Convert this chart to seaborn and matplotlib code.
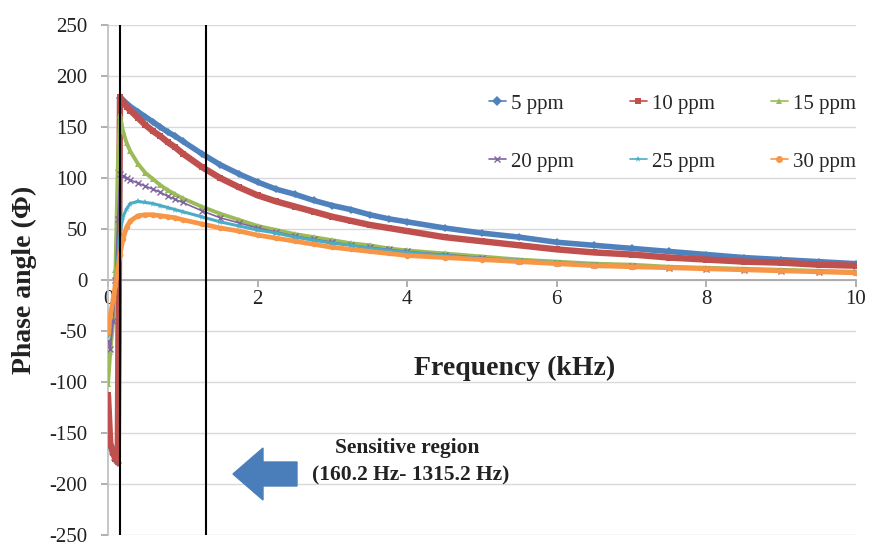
import matplotlib
matplotlib.use("Agg")
import matplotlib.pyplot as plt
import matplotlib.patches as mpatches
from matplotlib.lines import Line2D
from matplotlib.transforms import IdentityTransform
import seaborn as sns
import pandas as pd

# ---------------- data ----------------
freq_khz = [0.0, 0.03, 0.07, 0.1, 0.13, 0.1602, 0.2, 0.25, 0.3,
            0.4, 0.5, 0.6, 0.7, 0.8, 0.9, 1.0,
            1.25, 1.5, 1.75, 2.0, 2.25, 2.5, 2.75, 3.0, 3.25, 3.5, 3.75, 4.0,
            4.5, 5.0, 5.5, 6.0, 6.5, 7.0, 7.5, 8.0, 8.5, 9.0, 9.5, 10.0]

phase_5ppm = [-146, -162, -171, -176, -179, 178, 176, 173, 170,
              165, 160, 155, 150, 145, 141, 136,
              124, 113, 104, 96, 89, 84, 78, 73, 69, 64, 60, 57,
              51, 46, 42, 37, 34, 31, 28, 25, 22, 20, 18, 16]
phase_10ppm = [-113, -160, -170, -175, -178, 179, 175, 170, 166,
               159, 152, 146, 141, 135, 130, 124,
               111, 100, 91, 83, 77, 72, 67, 62, 58, 54, 51, 48,
               42, 38, 34, 30, 27, 25, 22, 20, 18, 17, 15, 14]
phase_15ppm = [-102, -71, -40, 10, 110, 162, 146, 134, 126,
               114, 105, 99, 93, 88, 84, 80,
               72, 65, 59, 53, 49, 45, 42, 39, 36, 34, 31, 29,
               26, 23, 20, 18, 16, 15, 13, 12, 11, 10, 9, 8]
phase_20ppm = [-60, -68, -40, 0, 60, 104, 102, 100, 98,
               95, 92, 89, 86, 82, 79, 76,
               68, 61, 56, 51, 47, 43, 40, 37, 34, 32, 30, 28,
               25, 22, 19, 17, 15, 14, 12, 11, 10, 9, 8, 8]
phase_25ppm = [-55, -40, -20, 0, 20, 45, 62, 70, 75,
               77, 76, 75, 73, 71, 69, 67,
               62, 57, 53, 49, 46, 42, 39, 36, 34, 31, 29, 27,
               24, 21, 19, 17, 15, 13, 12, 11, 10, 9, 8, 7]
phase_30ppm = [-51, -35, -19, -5, 10, 25, 40, 52, 58,
               63, 64, 64, 63, 62, 61, 59,
               55, 51, 48, 44, 41, 38, 35, 32, 30, 28, 26, 24,
               22, 20, 18, 16, 14, 13, 12, 11, 10, 9, 8, 7]

series_labels = ["5 ppm", "10 ppm", "15 ppm", "20 ppm", "25 ppm", "30 ppm"]
series_values = [phase_5ppm, phase_10ppm, phase_15ppm,
                 phase_20ppm, phase_25ppm, phase_30ppm]

sensitive_start_khz = 0.1602
sensitive_end_khz = 1.3152
x_ticks = [0, 2, 4, 6, 8, 10]
y_ticks = [-250, -200, -150, -100, -50, 0, 50, 100, 150, 200, 250]

# ---------------- styles ----------------
colors = ["#4F81BD", "#C0504D", "#9BBB59", "#8064A2", "#4BACC6", "#F79646"]
markers = ["D", "s", "^", "x", "*", "o"]
line_widths = [4.0, 4.6, 2.8, 1.2, 2.2, 3.4]
marker_sizes = [4, 4.5, 4, 4, 5, 4]

sns.set_theme(style="white")
plt.rcParams["font.family"] = ["Liberation Serif", "DejaVu Serif"]

rows = []
for lab, vals in zip(series_labels, series_values):
    for f, v in zip(freq_khz, vals):
        rows.append({"series": lab, "freq": f, "phase": v})
df = pd.DataFrame(rows)

fig = plt.figure(figsize=(8.71, 5.5), dpi=100)
ax = fig.add_axes([108 / 871, 15 / 550, 748 / 871, 510 / 550])

for lab, c, m, lw, ms in zip(series_labels, colors, markers, line_widths, marker_sizes):
    sub = df[df["series"] == lab]
    sns.lineplot(data=sub, x="freq", y="phase", ax=ax, color=c, marker=m,
                 markersize=ms, linewidth=lw,
                 markeredgewidth=(1.0 if m == "x" else 0),
                 markeredgecolor=c,
                 sort=False, estimator=None, legend=False, zorder=3)

# sensitive region boundaries
ax.axvline(sensitive_start_khz, color="black", lw=1.5, zorder=4)
ax.axvline(sensitive_end_khz, color="black", lw=1.5, zorder=4)

ax.set_xlim(0, 10)
ax.set_ylim(-250, 250)
ax.set_xticks(x_ticks)
ax.set_yticks(y_ticks)
ax.set_xticklabels([str(t) for t in x_ticks])
ax.set_yticklabels([str(t) for t in y_ticks])

ax.yaxis.grid(True, color="#D9D9D9", lw=1)
ax.xaxis.grid(False)
ax.set_axisbelow(True)

for s in ["top", "right"]:
    ax.spines[s].set_visible(False)
ax.spines["bottom"].set_position(("data", 0))
ax.spines["bottom"].set_color("#A6A6A6")
ax.spines["left"].set_color("#BFBFBF")
ax.spines["bottom"].set_zorder(2)

ax.tick_params(axis="y", left=True, length=5, color="#A6A6A6",
               labelsize=15, pad=10, labelcolor="#222222")
ax.tick_params(axis="x", bottom=True, length=5, color="#A6A6A6",
               labelsize=15, pad=2, labelcolor="#222222")

ax.set_ylabel("Phase angle (Φ)", fontsize=20, fontweight="bold", color="#222222")
ax.yaxis.set_label_coords(-0.095, 0.5)
ax.set_xlabel("Frequency (kHz)", fontsize=20, fontweight="bold", color="#222222")
ax.xaxis.set_label_coords(0.544, 0.352)

# legend (two rows of three)
handles = [Line2D([], [], color=c, marker=m, markersize=5, lw=1.2,
                  markeredgewidth=(1.0 if m == "x" else 0), markeredgecolor=c)
           for c, m in zip(colors, markers)]
order = [0, 3, 1, 4, 2, 5]
ax.legend([handles[i] for i in order], [series_labels[i] for i in order],
          ncol=3, loc="upper left", bbox_to_anchor=(489 / 871, 1 - 94 / 550),
          bbox_transform=fig.transFigure, frameon=False, fontsize=15,
          handlelength=0.8, handletextpad=0.25, columnspacing=2.7,
          labelspacing=1.85, borderpad=0, borderaxespad=0)

# annotation
ax.text(0.40, 0.1706, "Sensitive region", transform=ax.transAxes,
        ha="center", va="center", fontsize=15.5, fontweight="bold", color="#222222")
ax.text(0.405, 0.1176, "(160.2 Hz- 1315.2 Hz)", transform=ax.transAxes,
        ha="center", va="center", fontsize=15.5, fontweight="bold", color="#222222")

arrow = mpatches.FancyArrow(297, 76, -64, 0, width=24, head_width=52,
                            head_length=30, length_includes_head=True,
                            color="#4A7EBB", transform=IdentityTransform())
fig.add_artist(arrow)

fig.savefig("out.png", dpi=100)
